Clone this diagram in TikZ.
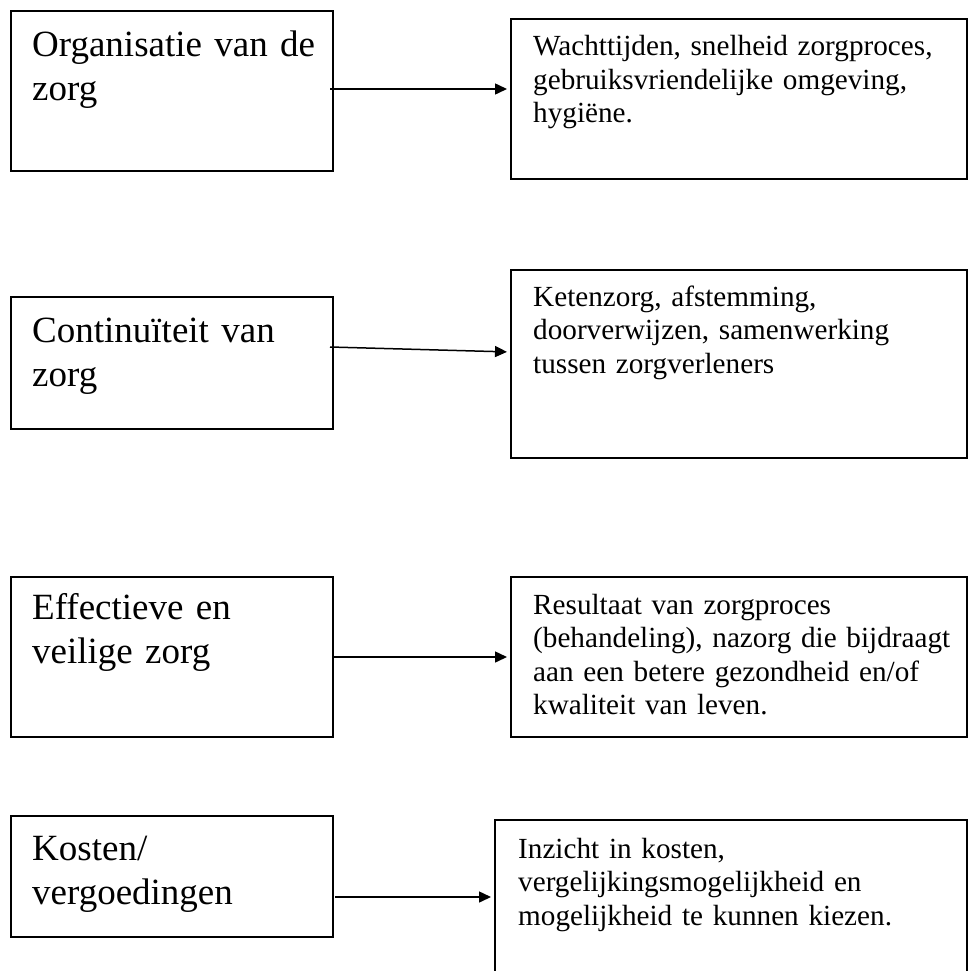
\documentclass[tikz,border=0pt]{standalone}
\usepackage{fontspec}
\setmainfont{Liberation Serif}
\usetikzlibrary{arrows.meta}
\tikzset{
  box/.style={draw=black, line width=1.5pt, rectangle, anchor=north west, inner sep=0pt, outer sep=0pt},
  ltxt/.style={anchor=base west, inner sep=0pt, align=left, text width=300pt,
    font=\fontsize{37}{44}\selectfont},
  rtxt/.style={anchor=base west, inner sep=0pt, align=left, text width=430pt,
    font=\fontsize{29.2}{33.5}\selectfont},
  arr/.style={line width=1.5pt, -{Triangle[length=12pt,width=11pt]}, shorten >=4pt}
}
\begin{document}
\begin{tikzpicture}[x=1pt,y=-1pt]
\useasboundingbox (0,0) rectangle (968,971);
% row 1
\node[box, minimum width=322pt, minimum height=160pt] (L1) at (11,11) {};
\node[box, minimum width=456pt, minimum height=160pt] (R1) at (511,19) {};
\node[ltxt] (tL1) at (32,56.5) {Organisatie van de\\zorg};
\node[rtxt] (tR1) at (533,56) {Wachttijden, snelheid zorgproces,\\gebruiksvriendelijke omgeving,\\hygiëne.};
\coordinate (a1s) at (330,89);
\draw[arr] (a1s) -- (R1.west |- a1s);
% row 2
\node[box, minimum width=322pt, minimum height=132pt] (L2) at (11,297) {};
\node[box, minimum width=456pt, minimum height=188pt] (R2) at (511,270) {};
\node[ltxt] (tL2) at (32,342.5) {Continuïteit van\\zorg};
\node[rtxt] (tR2) at (533,306) {Ketenzorg, afstemming,\\doorverwijzen, samenwerking\\tussen zorgverleners};
\coordinate (a2s) at (330,347);
\coordinate (a2e) at (511,352);
\draw[arr] (a2s) -- (a2e);
% row 3
\node[box, minimum width=322pt, minimum height=160pt] (L3) at (11,577) {};
\node[box, minimum width=456pt, minimum height=160pt] (R3) at (511,577) {};
\node[ltxt] (tL3) at (32,619.5) {Effectieve en\\veilige zorg};
\node[rtxt] (tR3) at (533,614) {Resultaat van zorgproces\\(behandeling), nazorg die bijdraagt\\aan een betere gezondheid en/of\\kwaliteit van leven.};
\coordinate (a3s) at (333,657);
\draw[arr] (a3s) -- (R3.west |- a3s);
% row 4
\node[box, minimum width=322pt, minimum height=121pt] (L4) at (11,816) {};
\node[box, minimum width=472pt, minimum height=160pt] (R4) at (495,820) {};
\node[ltxt] (tL4) at (32,860.5) {Kosten/\\vergoedingen};
\node[rtxt] (tR4) at (518,858) {Inzicht in kosten,\\vergelijkingsmogelijkheid en\\mogelijkheid te kunnen kiezen.};
\coordinate (a4s) at (335,897);
\draw[arr] (a4s) -- (R4.west |- a4s);
\end{tikzpicture}
\end{document}
